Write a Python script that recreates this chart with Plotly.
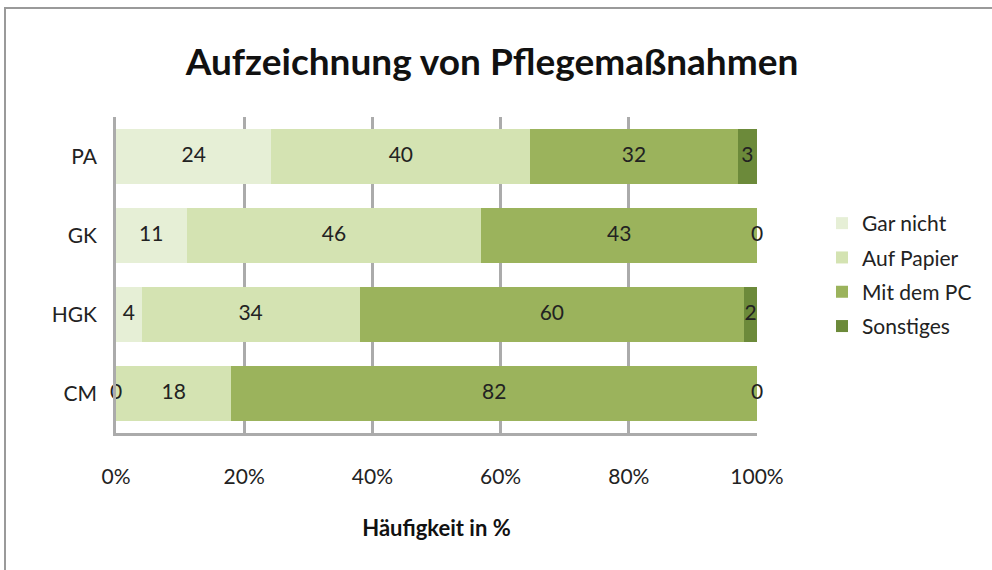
import plotly.graph_objects as go

categories = ["PA", "GK", "HGK", "CM"]
series_names = ["Gar nicht", "Auf Papier", "Mit dem PC", "Sonstiges"]
gar_nicht = [24, 11, 4, 0]
auf_papier = [40, 46, 34, 18]
mit_pc = [32, 43, 60, 82]
sonstiges = [3, 0, 2, 0]
colors = ["#e6efd6", "#d4e3b2", "#9bb35c", "#6c8a3a"]
x_ticks = [0, 20, 40, 60, 80, 100]
x_tick_labels = ["0%", "20%", "40%", "60%", "80%", "100%"]

series = [gar_nicht, auf_papier, mit_pc, sonstiges]
totals = [sum(s[i] for s in series) for i in range(len(categories))]
pct = [[s[i] / totals[i] * 100 for i in range(len(categories))] for s in series]

FONT = "Lato, 'Open Sans', sans-serif"
fig = go.Figure()
for name, vals, col in zip(series_names, pct, colors):
    fig.add_trace(go.Bar(
        y=categories, x=vals, name=name, orientation="h",
        legendgroup=name,
        marker=dict(color=col, line=dict(width=0)),
        hoverinfo="skip",
    ))

# value labels at segment midpoints
lx, ly, lt = [], [], []
for i, cat in enumerate(categories):
    cum = 0
    for s_raw, s_pct in zip(series, pct):
        lx.append(cum + s_pct[i] / 2)
        ly.append(cat)
        lt.append(str(s_raw[i]))
        cum += s_pct[i]
fig.add_trace(go.Scatter(
    x=lx, y=ly, text=lt, mode="text", showlegend=False,
    textfont=dict(family=FONT, size=21, color="#222222"),
    cliponaxis=False, hoverinfo="skip",
))

L, R, T, B = 116, 757, 117, 433
W, H = 992, 570
def px(x):
    return (x - L) / (R - L)
def py(y):
    return (B - y) / (B - T)

fig.add_shape(type="rect", xref="paper", yref="paper",
              x0=px(5), x1=px(995), y0=py(8), y1=py(575),
              line=dict(color="#9a9a9a", width=2), fillcolor="rgba(0,0,0,0)", layer="below")

fig.update_layout(
    width=W, height=H,
    barmode="stack", bargap=0.3,
    margin=dict(l=L, r=W - R, t=T, b=H - B),
    paper_bgcolor="white", plot_bgcolor="white",
    title=dict(text="<b>Aufzeichnung von Pflegemaßnahmen</b>",
               font=dict(family=FONT, size=37, color="#111111"),
               x=px(492), xanchor="center", xref="paper", y=1 - 62 / H, yanchor="middle"),
    font=dict(family=FONT, color="#222222"),
    legend=dict(x=px(822), y=py(203), xanchor="left", yanchor="top",
                font=dict(family=FONT, size=21, color="#222222"),
                tracegroupgap=4, itemsizing="constant", traceorder="grouped",
                itemwidth=30, bgcolor="rgba(0,0,0,0)"),
    showlegend=True,
)
fig.update_xaxes(range=[0, 100], tickvals=x_ticks, ticktext=x_tick_labels,
                 showgrid=True, gridcolor="#ababab", gridwidth=2.5,
                 showline=True, linecolor="#ababab", linewidth=2.5,
                 ticks="", ticklabelstandoff=23,
                 tickfont=dict(family=FONT, size=21, color="#222222"),
                 title=dict(text="<b>Häufigkeit in %</b>", standoff=34,
                            font=dict(family=FONT, size=22, color="#111111")),
                 zeroline=False, fixedrange=True)
fig.update_yaxes(categoryorder="array", categoryarray=categories[::-1],
                 showline=True, linecolor="#ababab", linewidth=2.5,
                 ticks="", ticklabelstandoff=12,
                 tickfont=dict(family=FONT, size=21, color="#222222"),
                 showgrid=False, fixedrange=True)

fig.write_html("out.html", config={"displayModeBar": False},
               post_script="document.body.style.margin='0';")
